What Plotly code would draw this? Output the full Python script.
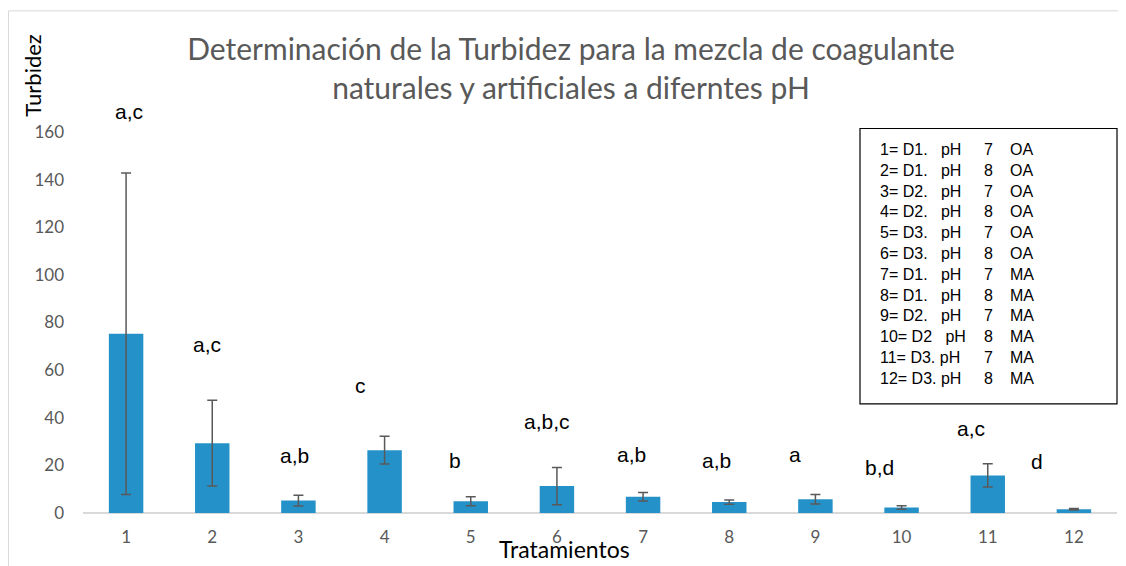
import plotly.graph_objects as go

# ---- data ----
tratamientos = [1, 2, 3, 4, 5, 6, 7, 8, 9, 10, 11, 12]
turbidez = [75.3, 29.3, 5.2, 26.4, 4.9, 11.3, 6.8, 4.6, 5.8, 2.3, 15.8, 1.6]
error = [67.5, 18.0, 2.3, 5.8, 1.9, 7.8, 1.8, 0.9, 2.0, 0.7, 4.9, 0.3]
letras = ["a,c", "a,c", "a,b", "c", "b", "a,b,c", "a,b", "a,b", "a", "b,d", "a,c", "d"]
letra_altura = [165.1, 67.1, 20.6, 49.9, 18.6, 35.0, 20.9, 18.5, 20.9, 15.7, 32.1, 18.0]
letra_dx = [0.03, -0.06, -0.05, -0.28, -0.18, -0.12, -0.13, -0.15, -0.24, -0.26, -0.19, -0.43]
y_ticks = [0, 20, 40, 60, 80, 100, 120, 140, 160]
y_max = 160

leyenda_a = ["1= D1.   pH", "2= D1.   pH", "3= D2.   pH", "4= D2.   pH", "5= D3.   pH", "6= D3.   pH",
             "7= D1.   pH", "8= D1.   pH", "9= D2.   pH", "10= D2   pH", "11= D3. pH", "12= D3. pH"]
leyenda_b = ["7", "8", "7", "8", "7", "8", "7", "8", "7", "8", "7", "8"]
leyenda_c = ["OA", "OA", "OA", "OA", "OA", "OA", "MA", "MA", "MA", "MA", "MA", "MA"]

titulo = "Determinación de la Turbidez para la mezcla de coagulante<br>naturales y artificiales a diferntes pH"

# page is offset by 8px body margin; figure coords = page coords - 8
OFF = 8
W, H = 1118, 558
L, R, T, B = 75, 9, 123.5, 52.5
pw, ph = W - L - R, H - T - B

def px_x(p):
    return (p - OFF - L) / pw

def px_y(p):
    return (H - B - (p - OFF)) / ph

fig = go.Figure()
fig.add_trace(go.Bar(
    x=tratamientos, y=turbidez,
    width=0.4,
    marker=dict(color="#2492C8", line=dict(width=0)),
    error_y=dict(type="data", array=error, visible=True, color="#595959", thickness=1.5, width=5),
    showlegend=False,
))

ann = []
for t, lt, h, dx in zip(tratamientos, letras, letra_altura, letra_dx):
    ann.append(dict(x=t + dx, y=h / y_max, xref="x", yref="paper", text=lt, showarrow=False,
                    xanchor="center", yanchor="bottom", yshift=-5,
                    font=dict(family="Liberation Sans, Arial", size=21, color="#000000")))

nb = "\u00a0"
col_a = "<br>".join(s.replace(" ", nb) for s in leyenda_a)
col_b = "<br>".join(leyenda_b)
col_c = "<br>".join(leyenda_c)
lfont = dict(family="Liberation Sans, Arial", size=16, color="#000000")
top_y = px_y(139)
for xx, txt in [(878, col_a), (982, col_b), (1008, col_c)]:
    ann.append(dict(x=px_x(xx), y=top_y, xref="paper", yref="paper", text=txt, showarrow=False,
                    xanchor="left", yanchor="top", align="left", font=lfont))

ann.append(dict(x=px_x(33), y=px_y(75), xref="paper", yref="paper", text="Turbidez", textangle=-90,
                showarrow=False, xanchor="center", yanchor="middle",
                font=dict(family="Lato, Calibri", size=22, color="#000000")))
ann.append(dict(x=px_x(564), y=px_y(550), xref="paper", yref="paper", text="Tratamientos",
                showarrow=False, xanchor="center", yanchor="middle",
                font=dict(family="Lato, Calibri", size=23, color="#000000")))

shapes = [
    dict(type="rect", xref="paper", yref="paper", x0=px_x(860), x1=px_x(1117), y0=px_y(404), y1=px_y(128),
         line=dict(color="#000000", width=1.2), fillcolor="rgba(0,0,0,0)"),
    dict(type="line", xref="paper", yref="paper", x0=px_x(8.5), x1=px_x(1130), y0=px_y(10), y1=px_y(10),
         line=dict(color="#D9D9D9", width=1)),
    dict(type="line", xref="paper", yref="paper", x0=px_x(8.5), x1=px_x(8.5), y0=px_y(10), y1=px_y(570),
         line=dict(color="#D9D9D9", width=1)),
]

fig.update_layout(
    width=W, height=H,
    margin=dict(l=L, r=R, t=T, b=B, pad=0),
    paper_bgcolor="white", plot_bgcolor="white",
    title=dict(text=titulo, x=(571 - OFF) / W, xanchor="center", xref="container",
               y=1 - 51.5 / H, yanchor="middle", yref="container",
               font=dict(family="Lato, Calibri", size=30, color="#595959")),
    xaxis=dict(range=[0.5, 12.5], tickmode="array", tickvals=tratamientos,
               ticktext=[str(t) for t in tratamientos], showgrid=False, zeroline=False,
               showline=False, ticks="", ticklabelstandoff=12,
               tickfont=dict(family="Lato, Calibri", size=17, color="#595959")),
    yaxis=dict(range=[0, y_max], tickmode="array", tickvals=y_ticks, showgrid=False,
               zeroline=True, zerolinecolor="#D9D9D9", zerolinewidth=1.5,
               showline=False, ticks="", ticklabelstandoff=18,
               tickfont=dict(family="Lato, Calibri", size=17, color="#595959")),
    annotations=ann, shapes=shapes,
    bargap=0.6,
)

fig.write_html("out.html")
